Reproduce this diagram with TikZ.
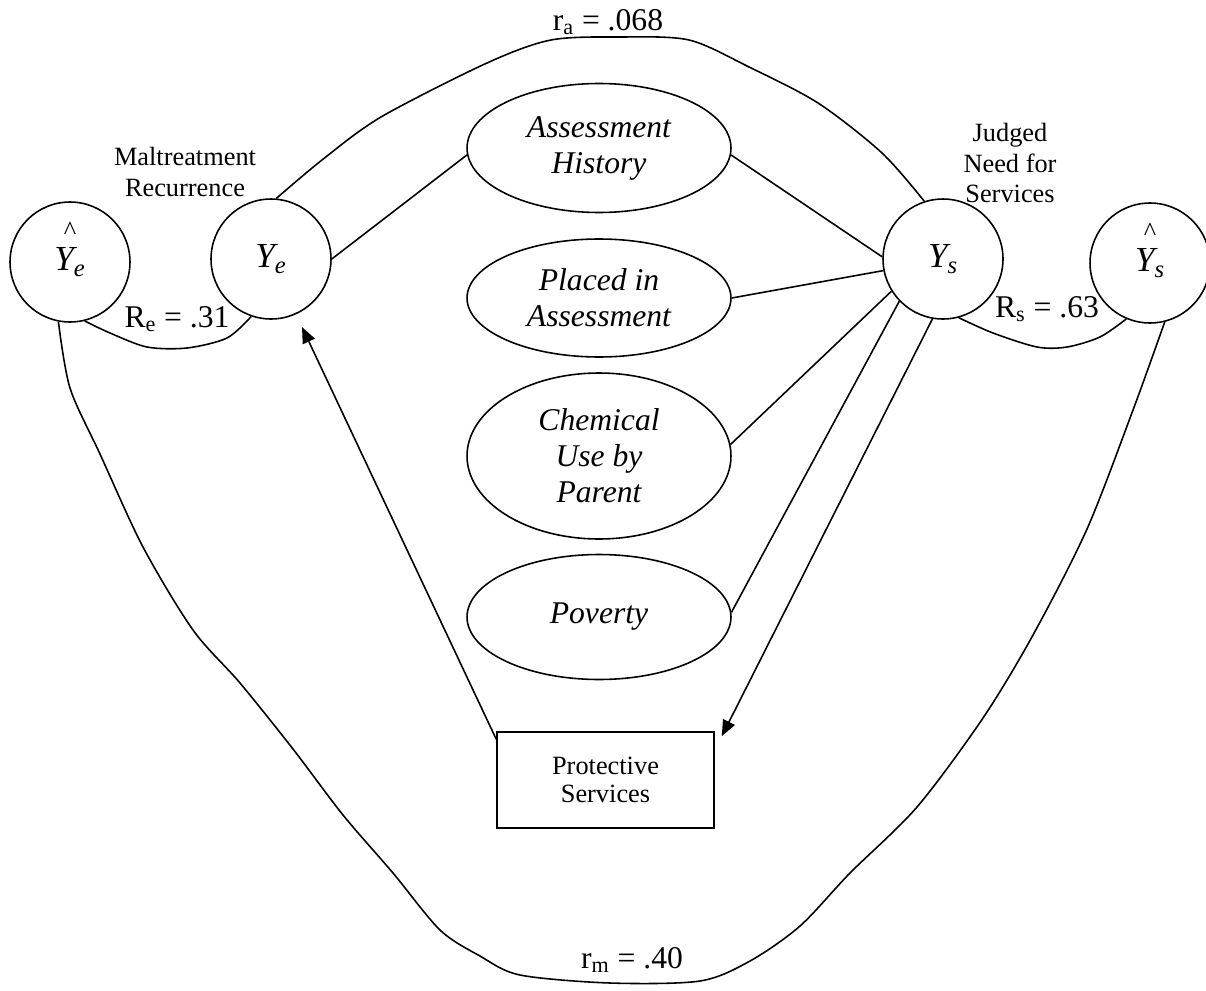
\documentclass[tikz,border=0pt]{standalone}
\usepackage{fontspec}
\setmainfont{Liberation Serif}
\usetikzlibrary{positioning,arrows.meta,shapes.geometric,calc}

\begin{document}
\begin{tikzpicture}[
  x=0.02cm, y=-0.02cm,
  line width=0.9pt,
  latent/.style={draw, circle, minimum size=2.4cm, inner sep=0pt, font=\fontsize{20}{24}\selectfont\itshape},
  factor/.style={draw, ellipse, minimum width=5.28cm, inner sep=0pt, align=center, font=\fontsize{18}{20.5}\selectfont\itshape},
  service/.style={draw, rectangle, minimum width=4.34cm, minimum height=1.92cm, align=center, font=\fontsize{15}{16}\selectfont},
  caption/.style={align=center, font=\fontsize{15}{17.5}\selectfont},
  coef/.style={inner sep=0pt, font=\fontsize{18}{20}\selectfont},
  hatmark/.style={inner sep=0pt, font=\fontsize{15}{18}\selectfont\upshape, yshift=0.62cm},
  arr/.style={-{Triangle[length=3.2mm,width=2.6mm]}}
]
\useasboundingbox (0,0) rectangle (1206,990);

\node[latent, label={[hatmark]center:\textasciicircum}] (yhe) at (70,262) {Y\textsubscript{e}};
\node[latent] (ye) at (271,259) {Y\textsubscript{e}};
\node[latent] (ys) at (943,259) {Y\textsubscript{s}};
\node[latent, label={[hatmark]center:\textasciicircum}] (yhs) at (1150,263) {Y\textsubscript{s}};

\node[factor, minimum height=2.58cm] (hist) at (599,148) {Assessment\\History};
\node[factor, minimum height=2.36cm] (placed) at (599,298) {Placed in\\Assessment};
\node[factor, minimum height=3.32cm] (chem) at (599,456) {Chemical\\Use by\\Parent};
\node[factor, minimum height=2.5cm] (pov) at (599,617) {Poverty};

\node[service] (prot) at (605.5,780) {Protective\\Services};

\node[caption] (maltr) at (185,172) {Maltreatment\\Recurrence};
\node[caption] (need) at (1010,163) {Judged\\Need for\\Services};

\node[coef] (ra) at (608,22) {r\textsubscript{a} = .068};
\node[coef] (re) at (177,319) {R\textsubscript{e} = .31};
\node[coef] (rs) at (1047,309) {R\textsubscript{s} = .63};
\node[coef] (rm) at (632,960) {r\textsubscript{m} = .40};

\coordinate (yein) at (302,327);
\coordinate (protin) at ([shift={(7,5)}]prot.north east);

\draw (ye.east) -- (hist.183);
\draw (hist.-3) -- (ys.178);
\draw (placed.east) -- (ys.191);
\draw (chem.5) -- (ys.212);
\draw (pov.2) -- (ys.224);
\draw[arr] (ys.260) -- (protin);
\draw[arr] ([shift={(0,8)}]prot.north west) -- (yein);

\draw plot[smooth] coordinates {(ye.85) (322,160) (381,117) (487,63) (551,40) (620,37) (689,40) (749,67) (818,103) (882,153) (ys.108)};
\draw plot[smooth] coordinates {(yhe.-76) (110,333) (147,347) (187,348) (227,338) (ye.-109)};
\draw plot[smooth] coordinates {(ys.-75) (993,333) (1037,347) (1067,347) (1100,337) (yhs.-113)};
\draw plot[smooth] coordinates {(yhe.-101) (70,388) (100,454) (143,547) (193,630) (240,683) (293,749) (343,815) (393,873) (440,930) (480,956) (520,975) (610,983) (700,981) (750,961) (800,926) (850,873) (917,807) (983,718) (1033,635) (1087,529) (1133,410) (yhs.-76)};

\end{tikzpicture}
\end{document}
